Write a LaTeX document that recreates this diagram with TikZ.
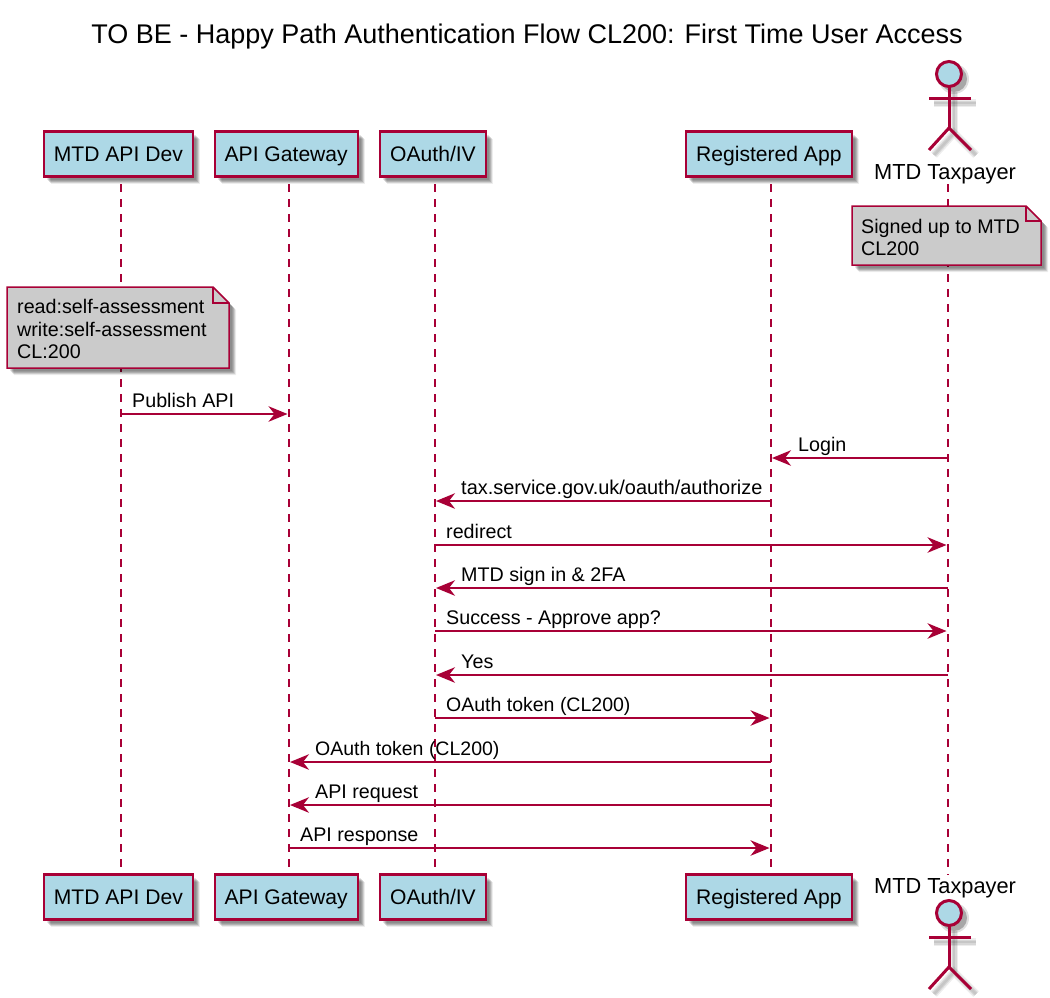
\documentclass[tikz,border=0pt]{standalone}
\usepackage{fontspec}
\setmainfont{Liberation Sans}
\usetikzlibrary{arrows.meta,shadows}
\definecolor{umlred}{HTML}{A80036}
\definecolor{umlblue}{HTML}{ADD8E6}
\definecolor{umlnote}{HTML}{CBCBCB}
\tikzset{
  softshade/.style={
    general shadow={shadow xshift=3pt,shadow yshift=-3pt,fill=black,opacity=.10,shadow scale=1},
    general shadow={shadow xshift=4pt,shadow yshift=-4pt,fill=black,opacity=.12,shadow scale=1},
    general shadow={shadow xshift=5pt,shadow yshift=-5pt,fill=black,opacity=.14,shadow scale=1},
    general shadow={shadow xshift=6pt,shadow yshift=-6pt,fill=black,opacity=.12,shadow scale=1},
    general shadow={shadow xshift=7pt,shadow yshift=-7pt,fill=black,opacity=.07,shadow scale=1}},
  partbox/.style={draw=umlred,fill=umlblue,line width=2.2pt,inner sep=0,outer sep=0,minimum height=45pt,
    font=\fontsize{21.1}{25}\selectfont,text=black,text height=18pt,text depth=4pt,softshade,anchor=west},
  lifeline/.style={draw=umlred,line width=1.3pt,dash pattern=on 7.5pt off 7.5pt},
  message/.style={draw=umlred,line width=1.5pt,-{Stealth[length=19pt,width=15.5pt,inset=6pt]}},
  msgtext/.style={font=\fontsize{19.7}{23}\selectfont,text=black,inner sep=0,anchor=base west},
  titletext/.style={font=\fontsize{27}{32}\selectfont,text=black,inner sep=0,anchor=base},
  actortext/.style={font=\fontsize{21.8}{25}\selectfont,text=black,inner sep=0,anchor=base west},
  notebody/.style={draw=umlred,fill=umlnote,line width=1.5pt,softshade,line join=miter},
  notefold/.style={draw=umlred,line width=1.5pt},
  actorline/.style={draw=umlred,line width=3pt},
}
\newcommand{\stickman}[3]{% x, head y, style
  \draw[#3] (#1-20,#2+24) -- (#1+22,#2+24);
  \draw[#3] (#1,#2+13) -- (#1,#2+54);
  \draw[#3] (#1-20,#2+76) -- (#1,#2+54) -- (#1+22,#2+76);
}
\begin{document}
\begin{tikzpicture}[x=1pt,y=-1pt]
\useasboundingbox (0,0) rectangle (1050,997);
\fill[white] (0,0) rectangle (1050,997);

\node[titletext] (title) at (527,43) {TO BE - Happy Path Authentication Flow CL200: First Time User Access};

% lifeline ends
\foreach \n/\x in {dev/121,gw/289,oa/435,app/771,tp/948}{
  \coordinate (\n top) at (\x,184);
  \coordinate (\n bot) at (\x,875);
  \draw[lifeline] (\n top) -- (\n bot);
}

% participants, top
\node[partbox,minimum width=148.7pt] (devT) at (44,154) {MTD API Dev};
\node[partbox,minimum width=143pt] (gwT) at (214.7,154) {API Gateway};
\node[partbox,minimum width=106pt] (oaT) at (380,154) {OAuth/IV};
\node[partbox,minimum width=165.7pt] (appT) at (686,154) {Registered App};
% participants, bottom
\node[partbox,minimum width=148.7pt] (devB) at (44,897) {MTD API Dev};
\node[partbox,minimum width=143pt] (gwB) at (214.7,897) {API Gateway};
\node[partbox,minimum width=106pt] (oaB) at (380,897) {OAuth/IV};
\node[partbox,minimum width=165.7pt] (appB) at (686,897) {Registered App};

% actors: soft shadow, then figure
\foreach \yy in {74,913}{
  \begin{scope}[shift={(5,5)}]
    \stickman{949}{\yy}{draw=black,opacity=.07,line width=8pt}
    \stickman{949}{\yy}{draw=black,opacity=.09,line width=5pt}
    \stickman{949}{\yy}{draw=black,opacity=.08,line width=2.5pt}
    \fill[black,opacity=.12] (949,\yy) circle (15);
    \fill[black,opacity=.25] (949,\yy) circle (13);
  \end{scope}
  \stickman{949}{\yy}{actorline}
  \filldraw[draw=umlred,fill=umlblue,line width=3pt] (949,\yy) circle (12.5);
}
\node[actortext] (tpT) at (874,179) {MTD Taxpayer};
\node[actortext] (tpB) at (874,893) {MTD Taxpayer};

% notes
\draw[notebody] (7,287) -- (213,287) -- (229,303) -- (229,368) -- (7,368) -- cycle;
\draw[notefold] (213,287) -- (213,303) -- (229,303);
\node[msgtext] (n1a) at (17,313) {read:self-assessment};
\node[msgtext] (n1b) at (17,336) {write:self-assessment};
\node[msgtext] (n1c) at (17,358) {CL:200};

\draw[notebody] (852,206) -- (1026,206) -- (1041,221) -- (1041,265) -- (852,265) -- cycle;
\draw[notefold] (1026,206) -- (1026,221) -- (1041,221);
\node[msgtext] (n2a) at (861,233) {Signed up to MTD};
\node[msgtext] (n2b) at (861,255) {CL200};

% messages
\foreach \name/\from/\to/\dx/\yy/\lx/\txt in {
  a/dev/gw/-1.5/414/132/{Publish API},
  b/tp/app/1/458/798/{Login},
  c/app/oa/1/501/461/{\fontsize{19.95}{23}\selectfont tax.service.gov.uk/oauth/authorize},
  d/oa/tp/-1.5/545/446/{redirect},
  e/tp/oa/1/588/461/{MTD sign in \& 2FA},
  f/oa/tp/-1.5/631/446/{Success - Approve app?},
  g/tp/oa/1/675/461/{Yes},
  h/oa/app/-1.5/718/446/{\fontsize{19.5}{23}\selectfont OAuth token (CL200)},
  i/app/gw/1/762/315/{\fontsize{19.5}{23}\selectfont OAuth token (CL200)},
  j/app/gw/1/805/315/{API request},
  k/gw/app/-1.5/848/300/{API response}}{
  \path (\from top |- 0,\yy) coordinate (\name s);
  \path (\to top |- 0,\yy) ++(\dx,0) coordinate (\name e);
  \draw[message] (\name s) -- (\name e);
  \node[msgtext] (\name t) at (\lx,\yy-6.5) {\txt};
}
\end{tikzpicture}
\end{document}
